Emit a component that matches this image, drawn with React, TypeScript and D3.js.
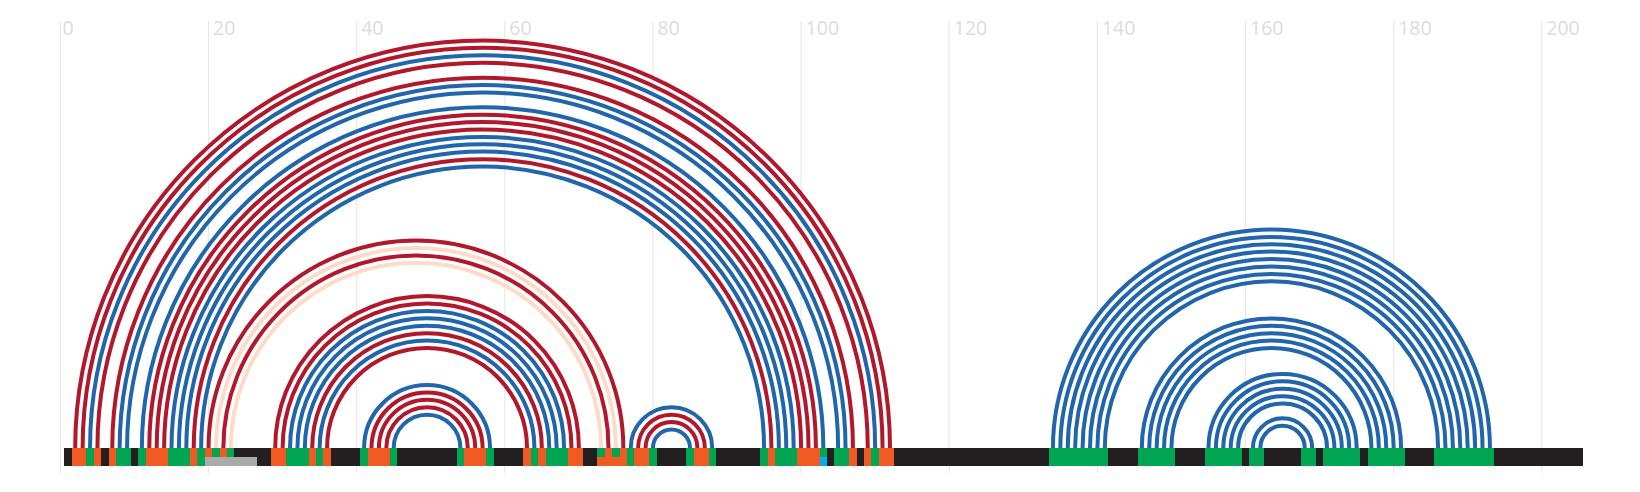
import React from "react";
import * as d3 from "d3";

// Grid tick values
const tickValues = [0, 20, 40, 60, 80, 100, 120, 140, 160, 180, 200];

// Base pairs: [i, j, kind]  kind: "R" red, "B" blue, "P" peach
const pairs: [number, number, string][] = [
  [2, 112, "R"], [3, 111, "R"], [4, 110, "B"], [5, 109, "R"],
  [7, 107, "R"], [8, 106, "B"], [9, 105, "B"],
  [11, 103, "B"], [12, 102, "R"], [13, 101, "R"], [14, 100, "R"],
  [15, 99, "B"], [16, 98, "B"], [17, 97, "B"], [18, 96, "R"], [19, 95, "B"],
  [20, 76, "R"], [21, 75, "P"], [22, 74, "R"], [23, 73, "P"],
  [29, 70, "R"], [30, 69, "R"], [31, 68, "B"], [32, 67, "B"], [33, 66, "B"],
  [34, 65, "R"], [35, 64, "B"], [36, 63, "R"],
  [41, 58, "B"], [42, 57, "R"], [43, 56, "R"], [44, 55, "R"], [45, 54, "B"],
  [77, 88, "B"], [78, 87, "R"], [79, 86, "R"], [80, 85, "B"],
  [134, 193, "B"], [135, 192, "B"], [136, 191, "B"], [137, 190, "B"],
  [138, 189, "B"], [139, 188, "B"], [140, 187, "B"], [141, 186, "B"],
  [146, 181, "B"], [147, 180, "B"], [148, 179, "B"], [149, 178, "B"], [150, 177, "B"],
  [155, 175, "B"], [156, 174, "B"], [157, 173, "B"], [158, 172, "B"], [159, 171, "B"],
  [161, 169, "B"], [162, 168, "B"],
];

// Sequence track segments: [firstNt, lastNt, kind]  K black, O orange, G green
const segments: [number, number, string][] = [
  [1, 1, "K"], [2, 3, "O"], [4, 4, "G"], [5, 5, "O"], [6, 6, "K"], [7, 7, "O"],
  [8, 9, "G"], [10, 10, "K"], [11, 11, "G"], [12, 14, "O"], [15, 17, "G"],
  [18, 18, "O"], [19, 19, "G"], [20, 20, "O"], [21, 21, "G"], [22, 22, "O"],
  [23, 23, "G"], [24, 28, "K"], [29, 30, "O"], [31, 33, "G"], [34, 34, "O"],
  [35, 35, "G"], [36, 36, "O"], [37, 40, "K"], [41, 41, "G"], [42, 44, "O"],
  [45, 45, "G"], [46, 53, "K"], [54, 54, "G"], [55, 57, "O"], [58, 58, "G"],
  [59, 62, "K"], [63, 63, "O"], [64, 64, "G"], [65, 65, "O"], [66, 68, "G"],
  [69, 70, "O"], [71, 72, "K"], [73, 73, "G"], [74, 74, "O"], [75, 75, "G"],
  [76, 76, "O"], [77, 77, "G"], [78, 79, "O"], [80, 80, "G"], [81, 84, "K"],
  [85, 85, "G"], [86, 87, "O"], [88, 88, "G"], [89, 94, "K"], [95, 95, "G"],
  [96, 96, "O"], [97, 99, "G"], [100, 102, "O"], [103, 103, "G"], [104, 104, "K"],
  [105, 106, "G"], [107, 107, "O"], [108, 108, "K"], [109, 109, "O"], [110, 110, "G"],
  [111, 112, "O"], [113, 133, "K"], [134, 141, "G"], [142, 145, "K"],
  [146, 150, "G"], [151, 154, "K"], [155, 159, "G"], [160, 160, "K"],
  [161, 162, "G"], [163, 167, "K"], [168, 169, "G"], [170, 170, "K"],
  [171, 175, "G"], [176, 176, "K"], [177, 181, "G"], [182, 185, "K"],
  [186, 193, "G"], [194, 205, "K"],
];

// Lower-half overlay segments: [firstNt, lastNt, kind]
const overlays: [number, number, string][] = [
  [20, 26, "Y"], [73, 76, "O"], [103, 103, "C"],
];

const arcColors: Record<string, string> = { R: "#b2182b", B: "#2166ac", P: "#fddbc7" };
const segColors: Record<string, string> = {
  K: "#231f20", O: "#f15a22", G: "#00a651", Y: "#aaaaaa", C: "#00aeef",
};

export default function App() {
  const W = 1640, H = 492;
  const x = d3.scaleLinear().domain([0, 200]).range([60.4, 1541.8]);
  const baseY = 448;
  const barH = 18;
  const unit = x(1) - x(0);

  const arcPath = (i: number, j: number) => {
    const p = d3.path();
    const cx = x((i + j) / 2);
    const r = ((j - i) / 2) * unit;
    p.arc(cx, baseY, r, Math.PI, 2 * Math.PI);
    return p.toString();
  };

  const drawOrder = [...pairs].sort((a, b) => (b[1] - b[0]) - (a[1] - a[0]));

  return (
    <svg width={W} height={H} style={{ position: "absolute", left: 0, top: 0, background: "#fff" }}>
      <g>
        {tickValues.map((t) => (
          <g key={t}>
            <line x1={x(t)} x2={x(t)} y1={21} y2={473} stroke="#e8e8e8" strokeWidth={1.2} />
            <text x={x(t) + (t === 0 ? 2 : 4.5)} y={34.5} fontFamily="'Open Sans', sans-serif" fontSize={19.5} fill="#dcdcdc">
              {t}
            </text>
          </g>
        ))}
      </g>
      <g>
        {drawOrder.map(([i, j, k], idx) => (
          <path key={idx} d={arcPath(i, j)} fill="none" stroke={arcColors[k]} strokeWidth={4} />
        ))}
      </g>
      <g>
        {segments.map(([a, b, k], idx) => (
          <rect key={idx} x={x(a - 0.5)} y={baseY} width={x(b + 0.5) - x(a - 0.5)} height={barH}
            fill={segColors[k]} shapeRendering="crispEdges" />
        ))}
        {overlays.map(([a, b, k], idx) => (
          <rect key={"o" + idx} x={x(a - 0.5)} y={baseY + barH / 2} width={x(b + 0.5) - x(a - 0.5)} height={barH / 2}
            fill={segColors[k]} shapeRendering="crispEdges" />
        ))}
      </g>
    </svg>
  );
}
